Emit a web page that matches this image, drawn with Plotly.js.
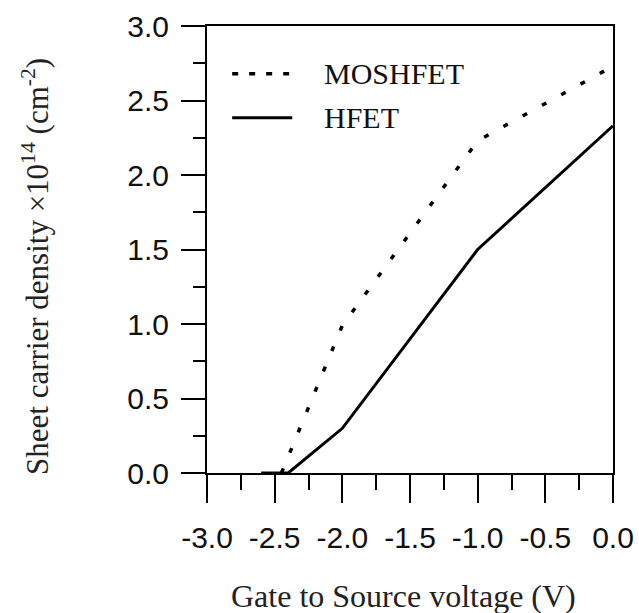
<!DOCTYPE html>
<html>
<head>
<meta charset="utf-8">
<script src="https://cdn.plot.ly/plotly-3.0.1.min.js"></script>
<style>html,body{margin:0;padding:0;background:#fff;}#chart{width:639px;height:613px;}</style>
</head>
<body>
<div id="chart"></div>
<script>
// Data
const moshfetV = [-2.45, -2.0, -1.0, 0.0];
const moshfetN = [0.0, 0.99, 2.23, 2.73];
const hfetV = [-2.6, -2.4, -2.0, -1.0, 0.0];
const hfetN = [0.0, 0.0, 0.30, 1.50, 2.33];
const seriesNames = ["MOSHFET", "HFET"];
const xTickVals = [-3.0, -2.5, -2.0, -1.5, -1.0, -0.5, 0.0];
const xTickText = ["-3.0", "-2.5", "-2.0", "-1.5", "-1.0", "-0.5", "0.0"];
const yTickVals = [0.0, 0.5, 1.0, 1.5, 2.0, 2.5, 3.0];
const yTickText = ["0.0", "0.5", "1.0", "1.5", "2.0", "2.5", "3.0"];
const xTitle = "Gate to Source voltage (V)";
const yTitle = "Sheet carrier density ×10<sup>14</sup> (cm<sup>-2</sup>)";

const serif = "'Liberation Serif', 'Times New Roman', serif";
const sans = "'Liberation Sans', Arial, sans-serif";

const traces = [
  {x: moshfetV, y: moshfetN, name: seriesNames[0], mode: "lines",
   line: {color: "#000", width: 3.5, dash: "5px,17px"}, showlegend: false},
  {x: hfetV, y: hfetN, name: seriesNames[1], mode: "lines",
   line: {color: "#000", width: 3}, showlegend: false}
];

const layout = {
  width: 639, height: 613,
  margin: {l: 207, r: 26, t: 26, b: 140},
  paper_bgcolor: "#fff", plot_bgcolor: "#fff",
  showlegend: false,
  xaxis: {
    range: [-3.0, 0.0], tickmode: "array", tickvals: xTickVals, ticktext: xTickText,
    ticks: "outside", ticklen: 28, tickwidth: 2, tickcolor: "#000",
    minor: {dtick: 0.25, ticks: "outside", ticklen: 15, tickwidth: 2, tickcolor: "#000", showgrid: false},
    showline: true, linecolor: "#000", linewidth: 2, mirror: true,
    showgrid: false, zeroline: false,
    tickfont: {family: sans, size: 30, color: "#111"},
    ticklabelstandoff: 9
  },
  yaxis: {
    range: [0.0, 3.0], tickmode: "array", tickvals: yTickVals, ticktext: yTickText,
    ticks: "outside", ticklen: 24, tickwidth: 2, tickcolor: "#000",
    minor: {dtick: 0.25, ticks: "outside", ticklen: 12, tickwidth: 2, tickcolor: "#000", showgrid: false},
    showline: true, linecolor: "#000", linewidth: 2, mirror: true,
    showgrid: false, zeroline: false,
    tickfont: {family: sans, size: 30, color: "#111"},
    ticklabelstandoff: 6
  },
  shapes: [
    {type: "line", xref: "paper", yref: "paper", x0: 0.062, x1: 0.21, y0: 0.893, y1: 0.893,
     line: {color: "#000", width: 3.5, dash: "6px,11px"}},
    {type: "line", xref: "paper", yref: "paper", x0: 0.062, x1: 0.21, y0: 0.795, y1: 0.795,
     line: {color: "#000", width: 3}}
  ],
  annotations: [
    {xref: "paper", yref: "paper", x: 0.283, y: 0.893, xanchor: "left", yanchor: "middle",
     text: seriesNames[0], showarrow: false, font: {family: serif, size: 30, color: "#111"}},
    {xref: "paper", yref: "paper", x: 0.283, y: 0.795, xanchor: "left", yanchor: "middle",
     text: seriesNames[1], showarrow: false, font: {family: serif, size: 30, color: "#111"}},
    {xref: "paper", yref: "paper", x: 0.484, y: -0.275, xanchor: "center", yanchor: "middle",
     text: xTitle, showarrow: false, font: {family: serif, size: 32, color: "#222"}},
    {xref: "paper", yref: "paper", x: -0.424, y: 0.463, xanchor: "center", yanchor: "middle",
     textangle: -90, text: yTitle, showarrow: false, font: {family: serif, size: 31, color: "#222"}}
  ]
};

Plotly.newPlot("chart", traces, layout, {displayModeBar: false, staticPlot: true});
</script>
</body>
</html>
